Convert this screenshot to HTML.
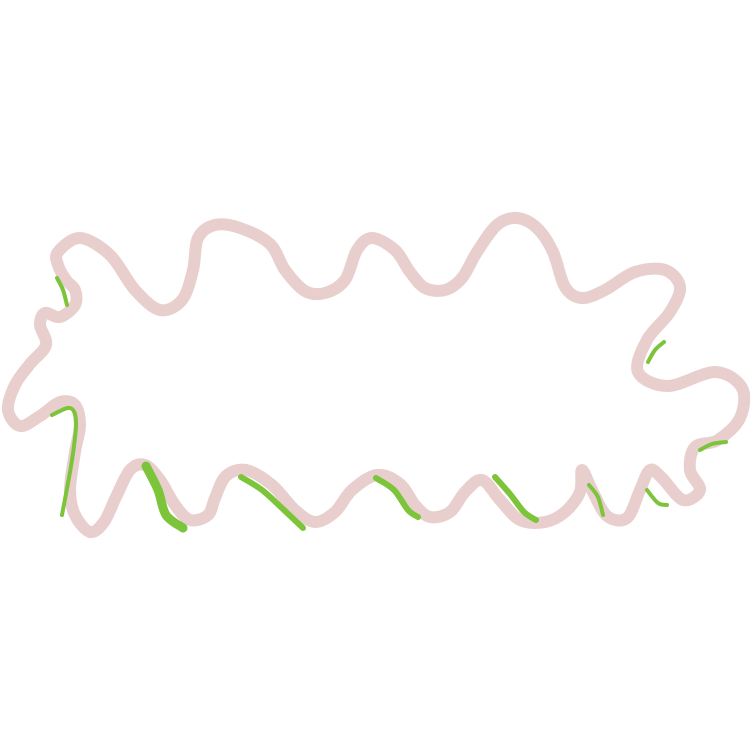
<!DOCTYPE html>
<html><head><meta charset="utf-8"><style>html,body{margin:0;padding:0;background:#fff}svg{display:block}</style></head>
<body>
<svg id="s" width="750" height="750" viewBox="0 0 750 750">
<rect width="750" height="750" fill="#fff"/>
</svg>
<script>
const outline=[[58,252],[80,238],[110,255],[135,290],[160,310],[182,300],[193,270],[198,238],[215,225],[240,228],[270,244],[285,270],[305,291],[325,293],[345,280],[357,250],[372,238],[395,250],[410,272],[425,288],[445,290],[462,278],[477,252],[497,225],[517,218],[537,228],[553,252],[565,287],[582,298],[605,290],[635,272],[665,270],[680,287],[670,312],[647,340],[638,372],[668,386],[715,372],[742,388],[740,418],[718,440],[695,447],[690,470],[700,490],[683,500],[662,478],[650,470],[640,490],[627,518],[607,516],[592,490],[582,470],[580,492],[565,512],[545,522],[520,520],[500,500],[482,480],[465,492],[450,512],[430,517],[415,505],[400,484],[377,475],[352,490],[335,512],[315,522],[295,510],[272,485],[246,470],[226,476],[215,498],[208,515],[190,520],[175,505],[160,480],[145,465],[130,470],[116,497],[104,522],[90,532],[75,515],[70,490],[75,452],[80,425],[75,405],[60,402],[40,416],[20,426],[8,410],[15,385],[30,364],[46,345],[40,325],[45,313],[60,317],[75,305],[75,290],[66,280],[58,265]];
const greens=[
 [[[57,278],[63,290],[67,305]],4],
 [[[52,415],[70,408],[76,422],[72,460],[62,515]],4],
 [[[146,466],[158,490],[166,515],[183,528]],9],
 [[[241,477],[262,490],[284,510],[303,528]],6],
 [[[376,478],[394,490],[408,510],[418,517]],6],
 [[[495,477],[510,494],[524,512],[536,520]],6],
 [[[589,485],[598,497],[603,515]],4],
 [[[648,362],[655,350],[664,342]],4],
 [[[647,490],[658,503],[667,505]],4],
 [[[700,450],[712,444],[726,442]],4]
];
function cr(p,closed){
 const n=p.length;let d=`M${p[0][0]},${p[0][1]}`;
 const g=i=>closed?p[(i+n)%n]:p[Math.max(0,Math.min(n-1,i))];
 const m=closed?n:n-1;
 for(let i=0;i<m;i++){const a=g(i-1),b=g(i),c=g(i+1),e=g(i+2);
  d+=` C${b[0]+(c[0]-a[0])/6},${b[1]+(c[1]-a[1])/6} ${c[0]-(e[0]-b[0])/6},${c[1]-(e[1]-b[1])/6} ${c[0]},${c[1]}`;}
 return d+(closed?'Z':'');
}
const s=document.getElementById('s'),NS='http://www.w3.org/2000/svg';
const o=document.createElementNS(NS,'path');
o.setAttribute('d',cr(outline,true));
o.setAttribute('fill','none');o.setAttribute('stroke','#e8cfcd');o.setAttribute('stroke-width','12');o.setAttribute('stroke-linejoin','round');


s.appendChild(o);
greens.forEach(([pts,w])=>{
 const p=document.createElementNS(NS,'path');
 p.setAttribute('d',cr(pts,false));
 p.setAttribute('fill','none');p.setAttribute('stroke','#7cc43a');p.setAttribute('stroke-width',w);p.setAttribute('stroke-linecap','round');
 
 
 s.appendChild(p);
});
</script>
</body></html>
